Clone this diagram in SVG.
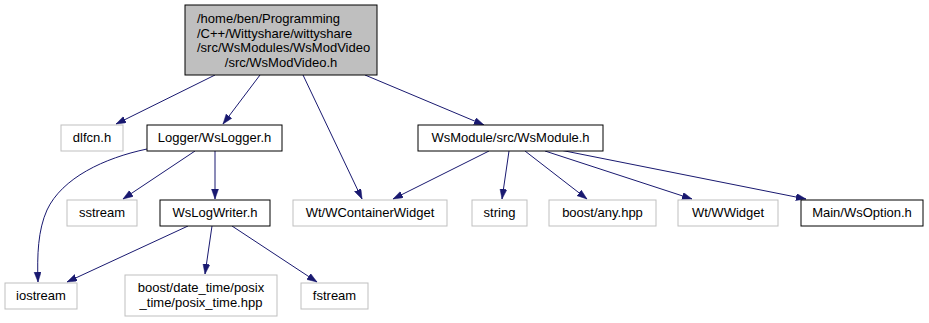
<svg xmlns="http://www.w3.org/2000/svg" width="929" height="323" viewBox="0 0 929 323">
<style>
  text { font-family: "Liberation Sans", Arial, sans-serif; font-size: 13px; fill: #000; }
  .c { text-anchor: middle; }
  .dep { fill: #fff; stroke: #bfbfbf; stroke-width: 1; }
  .hdr { fill: #fff; stroke: #000; stroke-width: 1; }
  .root { fill: #bfbfbf; stroke: #000; stroke-width: 1; }
  .edge { fill: none; stroke: #191970; stroke-width: 1; marker-end: url(#arrow); }
</style>
<defs>
  <marker id="arrow" markerUnits="userSpaceOnUse" markerWidth="11" markerHeight="8" refX="10" refY="3.5" orient="auto">
    <path d="M0,0 L10,3.5 L0,7 z" fill="#191970" stroke="#191970" stroke-width="0.5"/>
  </marker>
</defs>

<g id="edges">
  <path class="edge" d="M215,75 L116,124"/>
  <path class="edge" d="M260,75 L223,124"/>
  <path class="edge" d="M303,75 L362,199"/>
  <path class="edge" d="M365,75 L484,125"/>
  <path class="edge" d="M147,149 C104,158 62,178 47,210 C38,230 37,255 38,282"/>
  <path class="edge" d="M195,151 L123,199"/>
  <path class="edge" d="M215,151 L215,199"/>
  <path class="edge" d="M188,226 L67,282"/>
  <path class="edge" d="M212,226 L205,274"/>
  <path class="edge" d="M232,226 L317,282"/>
  <path class="edge" d="M489,151 L393,199"/>
  <path class="edge" d="M509,151 L502,199"/>
  <path class="edge" d="M525,151 L587,199"/>
  <path class="edge" d="M545,151 L692,199"/>
  <path class="edge" d="M560,150 L806,199"/>
</g>

<g id="node-root">
  <rect class="root" x="185" y="5" width="192" height="70"/>
  <text x="197" y="23">/home/ben/Programming</text>
  <text x="197" y="38">/C++/Wittyshare/wittyshare</text>
  <text x="197" y="52">/src/WsModules/WsModVideo</text>
  <text class="c" x="281" y="67">/src/WsModVideo.h</text>
</g>

<g id="node-dlfcn">
  <rect class="dep" x="61" y="125" width="62" height="26"/>
  <text class="c" x="92" y="142">dlfcn.h</text>
</g>

<g id="node-wslogger">
  <rect class="hdr" x="147" y="125" width="135" height="26"/>
  <text class="c" x="214.5" y="142">Logger/WsLogger.h</text>
</g>

<g id="node-wsmodule">
  <rect class="hdr" x="418" y="125" width="185" height="26"/>
  <text class="c" x="510.5" y="142">WsModule/src/WsModule.h</text>
</g>

<g id="node-sstream">
  <rect class="dep" x="67" y="200" width="70" height="26"/>
  <text class="c" x="102" y="217">sstream</text>
</g>

<g id="node-wslogwriter">
  <rect class="hdr" x="160" y="200" width="110" height="26"/>
  <text class="c" x="215" y="217">WsLogWriter.h</text>
</g>

<g id="node-wcontainerwidget">
  <rect class="dep" x="293" y="200" width="154" height="26"/>
  <text class="c" x="370" y="217">Wt/WContainerWidget</text>
</g>

<g id="node-string">
  <rect class="dep" x="472" y="200" width="55" height="26"/>
  <text class="c" x="499.5" y="217">string</text>
</g>

<g id="node-boost-any">
  <rect class="dep" x="549" y="200" width="107" height="26"/>
  <text class="c" x="602.5" y="217">boost/any.hpp</text>
</g>

<g id="node-wwidget">
  <rect class="dep" x="678" y="200" width="100" height="26"/>
  <text class="c" x="728" y="217">Wt/WWidget</text>
</g>

<g id="node-wsoption">
  <rect class="hdr" x="801" y="200" width="122" height="26"/>
  <text class="c" x="862" y="217">Main/WsOption.h</text>
</g>

<g id="node-iostream">
  <rect class="dep" x="5" y="283" width="72" height="26"/>
  <text class="c" x="41" y="300">iostream</text>
</g>

<g id="node-posix-time">
  <rect class="dep" x="125" y="275" width="152" height="41"/>
  <text class="c" x="201" y="292">boost/date_time/posix</text>
  <text class="c" x="201" y="307">_time/posix_time.hpp</text>
</g>

<g id="node-fstream">
  <rect class="dep" x="301" y="283" width="67" height="26"/>
  <text class="c" x="334.5" y="300">fstream</text>
</g>
</svg>
